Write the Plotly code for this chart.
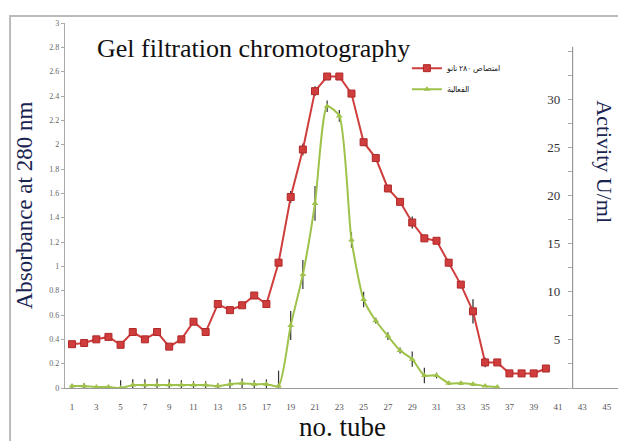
import plotly.graph_objects as go

tubes = list(range(1, 41))
absorbance = [0.36, 0.37, 0.40, 0.42, 0.355, 0.46, 0.40, 0.46, 0.34, 0.40,
              0.545, 0.46, 0.69, 0.64, 0.68, 0.76, 0.69, 1.03, 1.57, 1.96,
              2.44, 2.56, 2.56, 2.42, 2.02, 1.89, 1.64, 1.53, 1.36, 1.23,
              1.21, 1.03, 0.85, 0.63, 0.21, 0.21, 0.12, 0.12, 0.12, 0.16]
abs_err = [0.01, 0.01, 0.01, 0.01, 0.01, 0.02, 0.01, 0.03, 0.01, 0.02,
           0.02, 0.02, 0.02, 0.02, 0.01, 0.02, 0.01, 0.02, 0.05, 0.05,
           0.04, 0.02, 0.02, 0.02, 0.03, 0.02, 0.02, 0.02, 0.05, 0.03,
           0.02, 0.03, 0.03, 0.10, 0.04, 0.01, 0.01, 0.01, 0.01, 0.01]

act_tubes = list(range(1, 37))
activity = [0.2, 0.2, 0.1, 0.1, 0.0, 0.3, 0.3, 0.3, 0.3, 0.3,
            0.3, 0.3, 0.2, 0.4, 0.5, 0.4, 0.4, 0.2, 6.5, 11.8,
            19.2, 29.3, 28.3, 15.4, 9.2, 7.0, 5.4, 3.9, 3.0, 1.3,
            1.3, 0.5, 0.5, 0.4, 0.2, 0.1]
act_err = [0.2, 0.3, 0.1, 0.2, 0.8, 0.6, 0.6, 0.7, 0.6, 0.5,
           0.4, 0.4, 0.3, 0.5, 0.5, 0.4, 0.5, 1.6, 1.5, 1.5,
           1.8, 0.6, 0.6, 0.8, 0.8, 0.3, 0.4, 0.3, 0.8, 0.8,
           0.3, 0.2, 0.2, 0.2, 0.1, 0.1]

x_ticks = list(range(1, 46, 2))
left_ticks = [round(0.2 * i, 1) for i in range(16)]
right_ticks = [2.5 * i for i in range(15)]
right_text = ["" if (v % 5 or v == 0 or v == 35) else str(int(v)) for v in right_ticks]

title_text = "Gel filtration chromotography"
name_abs = "امتصاص ۲۸۰ نانو"
name_act = "الفعالية"

serif = "Liberation Serif"
red = "#cf3d3d"
green = "#9ec24a"

fig = go.Figure()
fig.add_trace(go.Scatter(
    x=tubes, y=absorbance, name=name_abs, mode="lines+markers",
    line=dict(color=red, width=2),
    marker=dict(symbol="square", size=7, color=red, line=dict(color="#b02828", width=1)),
    error_y=dict(type="data", array=abs_err, color="#222", thickness=1.2, width=0),
    legendgroup="a", yaxis="y"))
fig.add_trace(go.Scatter(
    x=act_tubes, y=activity, name=name_act, mode="lines+markers",
    line=dict(color=green, width=2, shape="spline", smoothing=0.6),
    marker=dict(symbol="triangle-up", size=6, color=green),
    error_y=dict(type="data", array=act_err, color="#333", thickness=1.2, width=0),
    legendgroup="b", yaxis="y2"))

# secondary axis line (Excel-style, crossing below the x axis)
fig.add_shape(type="line", xref="x", yref="y2", x0=42.2, x1=42.2, y0=-2.6, y1=35.5,
              line=dict(color="#999", width=1.2))
# chart frame
fig.add_shape(type="rect", xref="paper", yref="paper", x0=-0.099, x1=1.06, y0=-0.25, y1=1.019,
              line=dict(color="#bbbbbb", width=2))

fig.update_layout(
    width=626, height=441,
    margin=dict(l=57, r=14, t=11, b=61),
    paper_bgcolor="white", plot_bgcolor="white",
    showlegend=True,
    legend=dict(x=0.616, y=0.916, xanchor="left", yanchor="top",
                font=dict(family=serif, size=8, color="#222"),
                bgcolor="rgba(0,0,0,0)", tracegroupgap=2, traceorder="grouped",
                itemwidth=30),
    xaxis=dict(range=[0.424, 46.1], tickmode="array", tickvals=x_ticks,
               showgrid=False, zeroline=False, showline=True, linecolor="#999", linewidth=1.2,
               ticks="", ticklabelstandoff=10,
               tickfont=dict(family=serif, size=9, color="#555"),
               title=dict(text="no. tube", font=dict(family=serif, size=27, color="#111"),
                          standoff=0)),
    yaxis=dict(range=[0, 3], tickmode="array", tickvals=left_ticks,
               showgrid=False, zeroline=False, showline=True, linecolor="#aaa", linewidth=1.2,
               ticks="outside", ticklen=3, tickcolor="#aaa",
               tickfont=dict(family=serif, size=8, color="#666"),
               title=dict(text="Absorbance at 280 nm",
                          font=dict(family=serif, size=23, color="#1a2450"), standoff=10)),
    yaxis2=dict(range=[0, 37.96], overlaying="y", anchor="free", position=0.915, side="left",
                tickmode="array", tickvals=right_ticks, ticktext=right_text,
                showgrid=False, zeroline=False, showline=False,
                ticks="outside", ticklen=5, tickcolor="#aaa", ticklabelstandoff=5,
                tickfont=dict(family=serif, size=13, color="#333")),
    annotations=[
        dict(text=title_text, xref="paper", yref="paper", x=0.054, y=0.93,
             xanchor="left", yanchor="middle", showarrow=False,
             font=dict(family=serif, size=26, color="#111")),
        dict(text="Activity U/ml", xref="paper", yref="paper", x=0.972, y=0.62,
             xanchor="center", yanchor="middle", showarrow=False, textangle=90,
             font=dict(family=serif, size=22, color="#1a2450")),
    ],
)

fig.write_html("out.html")
